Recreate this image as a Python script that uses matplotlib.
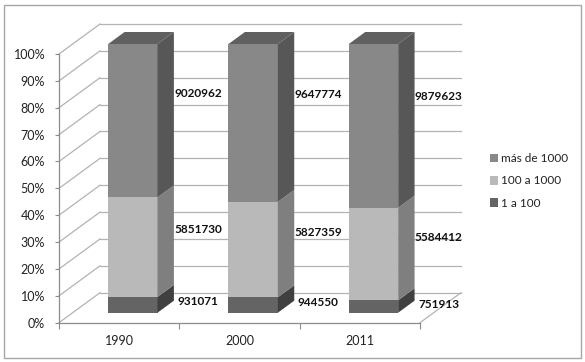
import matplotlib
matplotlib.use("Agg")
import matplotlib.pyplot as plt
from matplotlib.patches import Polygon, Rectangle
import numpy as np

years = ["1990", "2000", "2011"]
series_names = ["1 a 100", "100 a 1000", "más de 1000"]
s_1a100 = [931071, 944550, 751913]
s_100a1000 = [5851730, 5827359, 5584412]
s_mas1000 = [9020962, 9647774, 9879623]
yticks = [0, 0.1, 0.2, 0.3, 0.4, 0.5, 0.6, 0.7, 0.8, 0.9, 1.0]
ytick_labels = ["0%", "10%", "20%", "30%", "40%", "50%", "60%", "70%", "80%", "90%", "100%"]

front_cols = ["#646464", "#b9b9b9", "#888888"]
side_cols = ["#404040", "#7f7f7f", "#575757"]
top_cols = ["#4a4a4a", "#8a8a8a", "#606060"]

W, H = 585, 362
fig = plt.figure(figsize=(W / 100, H / 100), dpi=100)
plt.rcParams['font.family'] = ['Lato', 'DejaVu Sans']

# outer frame
fig.patches.append(Rectangle((4 / W, 4 / H), 577 / W, 353 / H, transform=fig.transFigure,
                             fill=False, edgecolor="#a6a6a6", lw=1.0))

x0, x1 = 59, 420
y0, y1 = 322.7, 54
ax = fig.add_axes([x0 / W, (H - y0) / H, (x1 - x0) / W, (y0 - y1) / H])
ax.set_xlim(0, 3)
ax.set_ylim(0, 1)
for s in ax.spines.values():
    s.set_visible(False)
ax.patch.set_alpha(0)

Dx = 41 / ((x1 - x0) / 3)
Dy = 30 / (y0 - y1)

grid_c = "#b3b3b3"
for v in yticks:
    ax.plot([0, Dx], [v, v + Dy], color=grid_c, lw=0.9, clip_on=False, zorder=1)
    ax.plot([Dx, 3 + Dx], [v + Dy, v + Dy], color=grid_c, lw=0.9, clip_on=False, zorder=1)
# floor
ax.plot([3, 3 + Dx], [0, Dy], color=grid_c, lw=0.9, clip_on=False, zorder=1)
ax.plot([0, 3], [0, 0], color="#8c8c8c", lw=0.9, clip_on=False, zorder=1)
ax.plot([0, 0], [0, 1], color="#8c8c8c", lw=0.9, clip_on=False, zorder=1)

ax.set_yticks(yticks)
ax.set_yticklabels(ytick_labels)
ax.set_xticks([0, 1, 2, 3])
ax.set_xticklabels([])
ax.set_xticks([0.5, 1.5, 2.5], minor=True)
ax.set_xticklabels(years, minor=True)
ax.tick_params(axis="y", length=3, color="#8c8c8c", labelsize=9, pad=7, labelcolor="#222222")
ax.tick_params(axis="x", which="major", length=4, color="#8c8c8c", direction="out")
ax.tick_params(axis="x", which="minor", length=0, labelsize=9, pad=9, labelcolor="#222222")

data = np.array([s_1a100, s_100a1000, s_mas1000], dtype=float)
totals = data.sum(axis=0)
frac = data / totals

d0, dd = 1 / 3, 0.4
bw = 0.41
ox, oy = Dx * d0, Dy * d0
sx, sy = Dx * dd, Dy * dd

for i in range(len(years)):
    left = i + 0.5 - bw / 2 + ox
    bottom = 0.0
    for k in range(3):
        h = frac[k, i]
        lo = bottom + oy
        hi = bottom + h + oy
        ax.bar(left, h, width=bw, bottom=lo, align="edge", color=front_cols[k],
               edgecolor="none", zorder=3, clip_on=False)
        side = Polygon([(left + bw, lo), (left + bw + sx, lo + sy), (left + bw + sx, hi + sy), (left + bw, hi)],
                       closed=True, facecolor=side_cols[k], edgecolor="none", zorder=3, clip_on=False)
        ax.add_patch(side)
        if k == 2:
            top = Polygon([(left, hi), (left + sx, hi + sy), (left + bw + sx, hi + sy), (left + bw, hi)],
                          closed=True, facecolor=top_cols[k], edgecolor="none", zorder=3, clip_on=False)
            ax.add_patch(top)
        ax.text(i + 0.5 + 0.655, bottom + 0.68 * h + oy, f"{int(data[k, i])}", ha="center", va="center",
                fontsize=8.5, fontweight="bold", color="#111111", zorder=5, clip_on=False)
        bottom += h

# legend
handles = [Rectangle((0, 0), 1, 1, facecolor=front_cols[k], edgecolor="none") for k in (2, 1, 0)]
labels = [series_names[k] for k in (2, 1, 0)]
fig.legend(handles, labels, loc="center left", bbox_to_anchor=(479 / W, 1 - 181 / H), frameon=False,
           fontsize=8.5, handlelength=0.7, handleheight=0.7, handletextpad=0.3, labelspacing=0.95,
           labelcolor="#222222")

fig.savefig("out.png", dpi=100)
